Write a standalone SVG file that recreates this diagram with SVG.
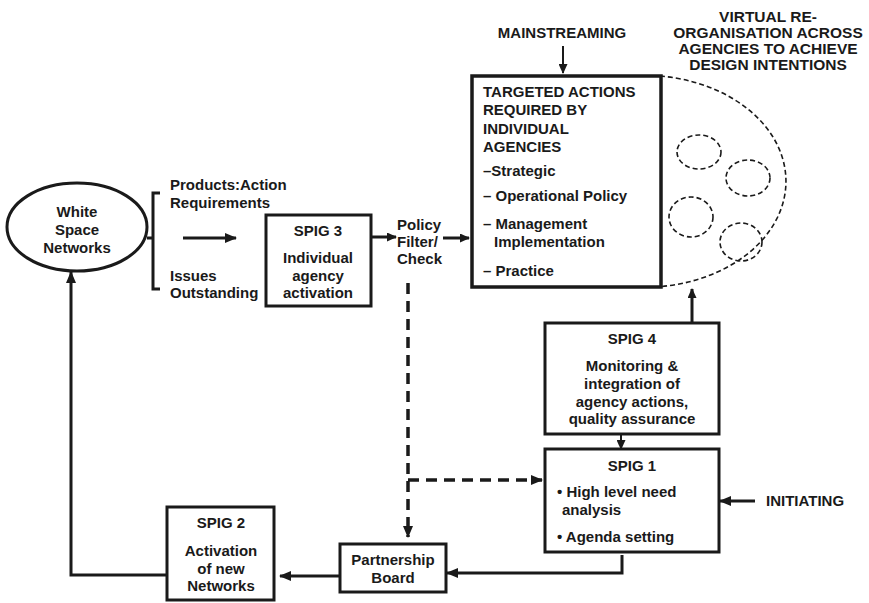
<svg xmlns="http://www.w3.org/2000/svg" width="869" height="603" viewBox="0 0 869 603">
  <style>
    text { font-family: "Liberation Sans", Arial, Helvetica, sans-serif; font-weight: bold; font-size: 15px; fill: #1a1a1a; }
    .c { text-anchor: middle; }
    .box { fill: #ffffff; stroke: #1a1a1a; stroke-width: 3; }
    .box-thick { fill: #ffffff; stroke: #1a1a1a; stroke-width: 3.5; }
    .line { fill: none; stroke: #1a1a1a; stroke-width: 3; }
    .thin { fill: none; stroke: #1a1a1a; stroke-width: 2; }
    .dash { fill: none; stroke: #1a1a1a; stroke-width: 3.5; stroke-dasharray: 11 7; }
    .dot { fill: none; stroke: #1a1a1a; stroke-width: 1.6; stroke-dasharray: 5 3; }
  </style>
  <defs>
    <marker id="arrow" markerUnits="userSpaceOnUse" markerWidth="12" markerHeight="10" refX="11" refY="5" orient="auto">
      <path d="M0,0 L12,5 L0,10 Z" fill="#1a1a1a"/>
    </marker>
    <marker id="arrow-sm" markerUnits="userSpaceOnUse" markerWidth="10" markerHeight="9" refX="9" refY="4.5" orient="auto">
      <path d="M0,0 L10,4.5 L0,9 Z" fill="#1a1a1a"/>
    </marker>
  </defs>

  <!-- connectors -->
  <g id="connectors">
    <path class="line" d="M147 238 H153 M160 193 H153 V289 H160"/>
    <path class="line" d="M183 238 H236" marker-end="url(#arrow)"/>
    <path class="line" d="M371 237 H396" marker-end="url(#arrow-sm)"/>
    <path class="line" d="M443 238 H469" marker-end="url(#arrow-sm)"/>
    <path class="thin" d="M563 46 V73" marker-end="url(#arrow-sm)"/>
    <path class="dash" d="M408 283 V537" marker-end="url(#arrow)"/>
    <path class="dash" d="M408 480 H542" marker-end="url(#arrow)"/>
    <path class="line" d="M692 323 V289" marker-end="url(#arrow-sm)"/>
    <path class="thin" d="M621 434 V449" marker-end="url(#arrow-sm)"/>
    <path class="line" d="M755 501 H720" marker-end="url(#arrow)"/>
    <path class="line" d="M622 555 V573 H447" marker-end="url(#arrow)"/>
    <path class="line" d="M340 576 H280" marker-end="url(#arrow)"/>
    <path class="line" d="M167 575 H71 V272" marker-end="url(#arrow)"/>
  </g>

  <!-- White Space Networks -->
  <g id="white-space">
    <ellipse cx="77" cy="227" rx="70" ry="44" fill="#ffffff" stroke="#1a1a1a" stroke-width="3"/>
    <text class="c" x="77" y="216.5">White</text>
    <text class="c" x="77" y="234.5">Space</text>
    <text class="c" x="77" y="252.5">Networks</text>
  </g>

  <!-- outputs feeding SPIG 3 -->
  <g id="outputs">
    <text x="170" y="190">Products:Action</text>
    <text x="170" y="208">Requirements</text>
    <text x="170" y="281">Issues</text>
    <text x="170" y="298">Outstanding</text>
  </g>

  <!-- SPIG 3 -->
  <g id="spig3">
    <rect class="box" x="266" y="215" width="105" height="91"/>
    <text class="c" x="318" y="236">SPIG 3</text>
    <text class="c" x="318" y="263">Individual</text>
    <text class="c" x="318" y="280.5">agency</text>
    <text class="c" x="318" y="298">activation</text>
  </g>

  <!-- Policy filter -->
  <g id="policy-filter">
    <text x="397" y="229.5">Policy</text>
    <text x="397" y="246.5">Filter/</text>
    <text x="397" y="264">Check</text>
  </g>

  <!-- Mainstreaming label -->
  <g id="mainstreaming">
    <text class="c" x="562" y="38">MAINSTREAMING</text>
  </g>

  <!-- virtual re-organisation across agencies -->
  <g id="virtual-reorganisation">
    <path class="dot" d="M660 76 A142 106 0 0 1 655 287"/>
    <ellipse class="dot" cx="699" cy="152" rx="22" ry="17"/>
    <ellipse class="dot" cx="748" cy="178" rx="22" ry="18"/>
    <ellipse class="dot" cx="691" cy="217" rx="22" ry="20"/>
    <ellipse class="dot" cx="741" cy="242" rx="21" ry="19"/>
    <text class="c" x="768" y="22" style="font-size:15.5px">VIRTUAL RE-</text>
    <text class="c" x="768" y="38" style="font-size:15.5px">ORGANISATION ACROSS</text>
    <text class="c" x="768" y="54" style="font-size:15.5px">AGENCIES TO ACHIEVE</text>
    <text class="c" x="768" y="70" style="font-size:15.5px">DESIGN INTENTIONS</text>
  </g>

  <!-- Targeted actions -->
  <g id="targeted-actions">
    <rect class="box-thick" x="472" y="76" width="189" height="211"/>
    <text x="483" y="97">TARGETED ACTIONS</text>
    <text x="483" y="115">REQUIRED BY</text>
    <text x="483" y="133.5">INDIVIDUAL</text>
    <text x="483" y="152">AGENCIES</text>
    <text x="483" y="176">–Strategic</text>
    <text x="483" y="201">– Operational Policy</text>
    <text x="483" y="229">– Management</text>
    <text x="494" y="246.5">Implementation</text>
    <text x="483" y="276">– Practice</text>
  </g>

  <!-- SPIG 4 -->
  <g id="spig4">
    <rect class="box" x="545" y="323" width="174" height="111"/>
    <text class="c" x="632" y="344">SPIG 4</text>
    <text class="c" x="632" y="371">Monitoring &amp;</text>
    <text class="c" x="632" y="389">integration of</text>
    <text class="c" x="632" y="406.5">agency actions,</text>
    <text class="c" x="632" y="424">quality assurance</text>
  </g>

  <!-- SPIG 1 -->
  <g id="spig1">
    <rect class="box" x="545" y="449" width="174" height="103"/>
    <text class="c" x="632" y="471">SPIG 1</text>
    <text x="557" y="497">• High level need</text>
    <text x="562" y="514.5">analysis</text>
    <text x="557" y="542">• Agenda setting</text>
  </g>

  <!-- Initiating label -->
  <g id="initiating">
    <text x="766" y="506">INITIATING</text>
  </g>

  <!-- Partnership Board -->
  <g id="partnership-board">
    <rect class="box" x="340" y="544" width="106" height="48"/>
    <text class="c" x="393" y="565">Partnership</text>
    <text class="c" x="393" y="583">Board</text>
  </g>

  <!-- SPIG 2 -->
  <g id="spig2">
    <rect class="box" x="167" y="507" width="107" height="93"/>
    <text class="c" x="221" y="528">SPIG 2</text>
    <text class="c" x="221" y="556">Activation</text>
    <text class="c" x="221" y="573.5">of new</text>
    <text class="c" x="221" y="591">Networks</text>
  </g>
</svg>
